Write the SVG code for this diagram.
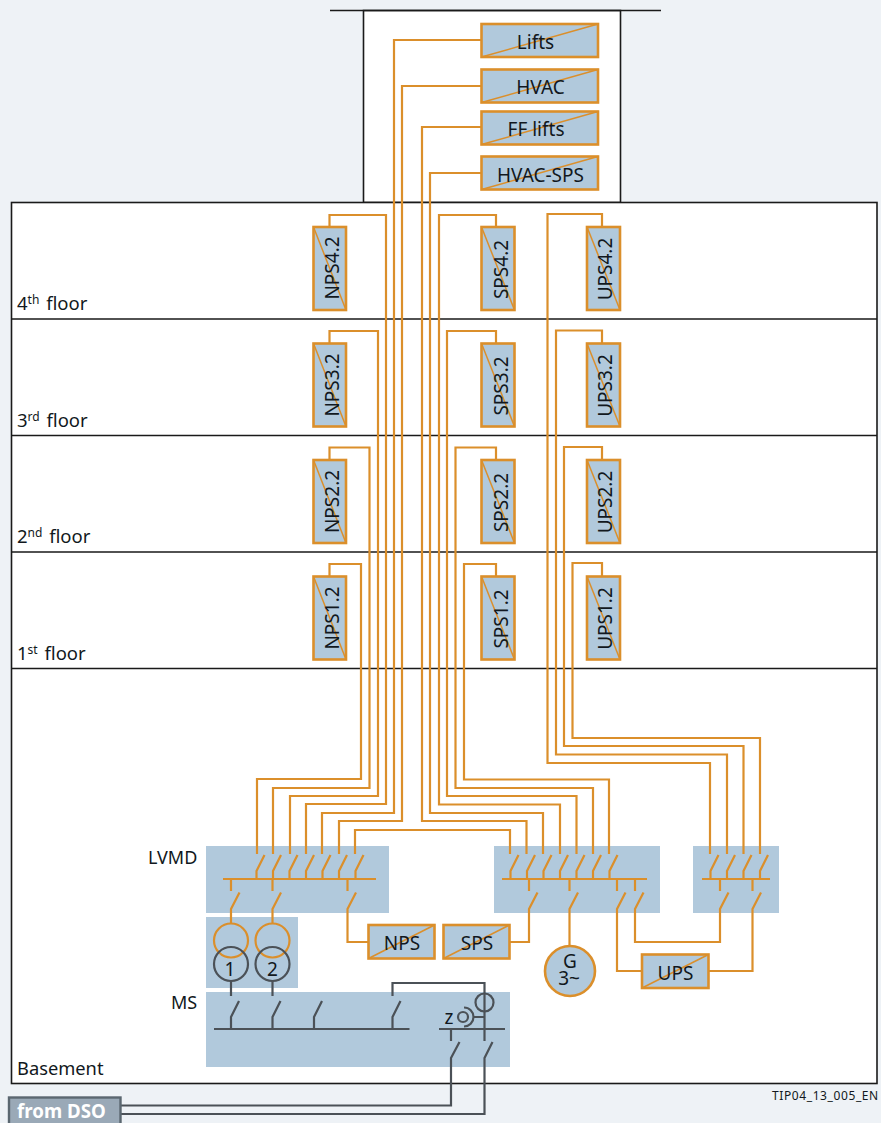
<svg xmlns="http://www.w3.org/2000/svg" width="881" height="1123" viewBox="0 0 881 1123">
<style>
text{font-family:"Noto Sans","Open Sans","DejaVu Sans",sans-serif;font-size:18px;fill:#111820}
.t{font-size:19px}
.m{text-anchor:middle}
.f{fill:#fff;stroke:#1a1a1a;stroke-width:1.6}
.l{fill:none;stroke:#1a1a1a;stroke-width:1.6}
.b{fill:#b1c9dc}
.n{fill:#b1c9dc;stroke:#db8f2b;stroke-width:2.6}
.d{stroke:#db8f2b;stroke-width:1.5;fill:none}
.o{fill:none;stroke:#db8f2b;stroke-width:2.2}
.g{fill:none;stroke:#4b5157;stroke-width:2.2}
.s{font-size:12px}
.r{font-size:18.500px}
</style>
<rect width="881" height="1123" fill="#eef2f6"/>
<g id="building">
<rect class="f" x="363.500" y="10.500" width="257" height="192"/>
<rect class="f" x="11.500" y="202.500" width="865.500" height="881"/>
<path class="l" d="M330 10.500H661M11.500 319H877M11.500 435.500H877M11.500 552H877M11.500 668.500H877"/>
</g>
<g id="panels">
<rect class="b" x="206" y="846" width="183" height="67"/>
<rect class="b" x="494" y="846" width="166" height="67"/>
<rect class="b" x="693" y="846" width="86" height="67"/>
<rect class="b" x="206" y="917" width="92" height="71"/>
<rect class="b" x="206" y="992" width="304" height="75"/>
</g>
<g id="connectors">
<path class="o" d="M481 40H394V813H322V854M481 86H402V821H339V854M481 127H422V821H526.500V854M481 173H430V813H543V854"/>
<path class="o" d="M329.500 227V215H386V804H306V854M329.500 343.500V331H378V796H290V854M329.500 460V447.500H369.500V788H273V854M329.500 576V564H361V779H257V854"/>
<path class="o" d="M496 227V215H439V804.500H560V854M496 343.500V331H447V796H576.500V854M496 460V447.500H455.500V788H593V854M496 576V564H464V779.500H609V854"/>
<path class="o" d="M602 227V214H547.500V763H710V854M602 343.500V330.500H556V754.500H727V854M602 460V447H564V746H743.500V854M602 576V563H572.500V738H760V854"/>
<path class="o" d="M355 854V830H510V854"/>
<path class="o" d="M264.500 855L256.500 871V879M281 855L273 871V879M297.500 855L289.500 871V879M314 855L306 871V879M330.500 855L322.500 871V879M347 855L339 871V879M363.500 855L355.500 871V879"/>
<path class="o" d="M518.500 855L510.500 871V879M535 855L527 871V879M551.500 855L543.500 871V879M568 855L560 871V879M584.500 855L576.500 871V879M601 855L593 871V879M617.500 855L609.500 871V879"/>
<path class="o" d="M718.500 855L710.500 871V879M735 855L727 871V879M751.500 855L743.500 871V879M768 855L760 871V879"/>
<path class="o" d="M223 879H376M502 879H647M702 879H770"/>
<path class="o" d="M231 879V891M239.500 892.500L231 909V923M272.500 879V891M281 892.500L272.500 909V923M347.500 879V891M356 892.500L347.500 909V942H368"/>
<path class="o" d="M529 879V891M537.500 892.500L529 909V942H510M569.500 879V891M578 892.500L569.500 909V946M617 879V891M625.500 892.500L617 909V971H641.500M635 879V891M643.500 892.500L635 909V942H720V909L728.500 892.500M720 879V891M752.500 879V891M761 892.500L752.500 909V971H709"/>
<path class="g" d="M231 981V996M239 1001L231 1017V1029M272.500 981V996M280.500 1001L272.500 1017V1029M322 1001L314 1017V1029M400.500 1001L392.500 1017V1029M392.500 996V983H484.500V1041M214 1029H409.500M439 1029H505M451 1029V1041M459.500 1042L451 1058V1105.500H121M492.500 1042L484.500 1058V1114H121M473 1017H484.500"/>
</g>
<g id="node-lifts"><rect class="n" x="481.500" y="24" width="116.500" height="33"/><path class="d" d="M481.500 57L598 24"/><text class="m t" x="535.500" y="49">Lifts</text></g>
<g id="node-hvac"><rect class="n" x="481.500" y="69.500" width="116.500" height="33"/><path class="d" d="M481.500 102.500L598 69.500"/><text class="m t" x="540.500" y="94">HVAC</text></g>
<g id="node-ff-lifts"><rect class="n" x="481.500" y="111.500" width="116.500" height="33"/><path class="d" d="M481.500 144.500L598 111.500"/><text class="m t" x="536" y="136">FF lifts</text></g>
<g id="node-hvac-sps"><rect class="n" x="481.500" y="156.500" width="116.500" height="33"/><path class="d" d="M481.500 189.500L598 156.500"/><text class="m t" x="540.500" y="182">HVAC-SPS</text></g>
<g id="node-nps42"><rect class="n" x="313.500" y="227" width="32.500" height="83"/><path class="d" d="M313.500 227L346 310"/><text class="m t" transform="translate(338.500 268) rotate(-90)">NPS4.2</text></g>
<g id="node-sps42"><rect class="n" x="481.500" y="227" width="33" height="83"/><path class="d" d="M481.500 227L514.500 310"/><text class="m t" transform="translate(507.500 269.500) rotate(-90)">SPS4.2</text></g>
<g id="node-ups42"><rect class="n" x="587" y="227" width="33" height="83"/><path class="d" d="M587 227L620 310"/><text class="m t" transform="translate(612 269) rotate(-90)">UPS4.2</text></g>
<g id="node-nps32"><rect class="n" x="313.500" y="343.500" width="32.500" height="83"/><path class="d" d="M313.500 343.500L346 426.500"/><text class="m t" transform="translate(338.500 385) rotate(-90)">NPS3.2</text></g>
<g id="node-sps32"><rect class="n" x="481.500" y="343.500" width="33" height="83"/><path class="d" d="M481.500 343.500L514.500 426.500"/><text class="m t" transform="translate(507.500 386) rotate(-90)">SPS3.2</text></g>
<g id="node-ups32"><rect class="n" x="587" y="343.500" width="33" height="83"/><path class="d" d="M587 343.500L620 426.500"/><text class="m t" transform="translate(612 385.500) rotate(-90)">UPS3.2</text></g>
<g id="node-nps22"><rect class="n" x="313.500" y="460" width="32.500" height="83"/><path class="d" d="M313.500 460L346 543"/><text class="m t" transform="translate(338.500 501.500) rotate(-90)">NPS2.2</text></g>
<g id="node-sps22"><rect class="n" x="481.500" y="460" width="33" height="83"/><path class="d" d="M481.500 460L514.500 543"/><text class="m t" transform="translate(507.500 502.500) rotate(-90)">SPS2.2</text></g>
<g id="node-ups22"><rect class="n" x="587" y="460" width="33" height="83"/><path class="d" d="M587 460L620 543"/><text class="m t" transform="translate(612 502) rotate(-90)">UPS2.2</text></g>
<g id="node-nps12"><rect class="n" x="313.500" y="576.500" width="32.500" height="83"/><path class="d" d="M313.500 576.500L346 659.500"/><text class="m t" transform="translate(338.500 618) rotate(-90)">NPS1.2</text></g>
<g id="node-sps12"><rect class="n" x="481.500" y="576.500" width="33" height="83"/><path class="d" d="M481.500 576.500L514.500 659.500"/><text class="m t" transform="translate(507.500 619) rotate(-90)">SPS1.2</text></g>
<g id="node-ups12"><rect class="n" x="587" y="576.500" width="33" height="83"/><path class="d" d="M587 576.500L620 659.500"/><text class="m t" transform="translate(612 618.500) rotate(-90)">UPS1.2</text></g>
<g id="node-nps"><rect class="n" x="368.500" y="925" width="66" height="33.500"/><path class="d" d="M368.500 958.500L434.500 925"/><text class="m t" x="402" y="950">NPS</text></g>
<g id="node-sps"><rect class="n" x="443.500" y="925" width="66" height="33.500"/><path class="d" d="M443.500 958.500L509.500 925"/><text class="m t" x="477" y="950">SPS</text></g>
<g id="node-ups"><rect class="n" x="642" y="954.500" width="66.500" height="33.500"/><path class="d" d="M642 988L708.500 954.500"/><text class="m t" x="675.500" y="980">UPS</text></g>
<g id="node-generator"><circle cx="570" cy="971" r="25" fill="#b1c9dc" stroke="#db8f2b" stroke-width="2.6"/><text class="m t" x="570" y="968">G</text><text class="m t" x="569" y="985">3~</text></g>
<g id="node-transformer-1"><circle class="o" cx="231" cy="940.500" r="17"/><circle class="g" cx="231" cy="964" r="17"/><text class="m t" x="230" y="976">1</text></g>
<g id="node-transformer-2"><circle class="o" cx="272.500" cy="940.500" r="17"/><circle class="g" cx="272.500" cy="964" r="17"/><text class="m t" x="272.500" y="976">2</text></g>
<g id="node-metering"><circle class="g" cx="484.500" cy="1002.500" r="9"/><circle class="g" cx="463" cy="1017" r="5"/><path class="g" d="M464 1007.500A9.500 9.500 0 0 1 464 1026.500"/><text class="m t" x="449" y="1024">z</text></g>
<g id="node-dso"><rect x="9" y="1097.500" width="111.500" height="30" fill="#9aa9b7" stroke="#5b6770" stroke-width="2.400"/><text x="17" y="1118" style="fill:#fff;font-weight:700;font-size:18.700px">from DSO</text></g>
<g id="labels">
<text class="r" x="17" y="310">4<tspan class="s" dy="-6">th</tspan><tspan dy="6" dx="2"> floor</tspan></text>
<text class="r" x="17" y="427">3<tspan class="s" dy="-6">rd</tspan><tspan dy="6" dx="2"> floor</tspan></text>
<text class="r" x="17" y="543">2<tspan class="s" dy="-6">nd</tspan><tspan dy="6" dx="2"> floor</tspan></text>
<text class="r" x="17" y="660">1<tspan class="s" dy="-6">st</tspan><tspan dy="6" dx="2"> floor</tspan></text>
<text x="17" y="1075" style="font-size:18.300px">Basement</text>
<text x="148" y="864">LVMD</text>
<text x="171" y="1009">MS</text>
<text x="772" y="1100" style="font-size:12px;letter-spacing:0.600px">TIP04_13_005_EN</text>
</g>
</svg>
